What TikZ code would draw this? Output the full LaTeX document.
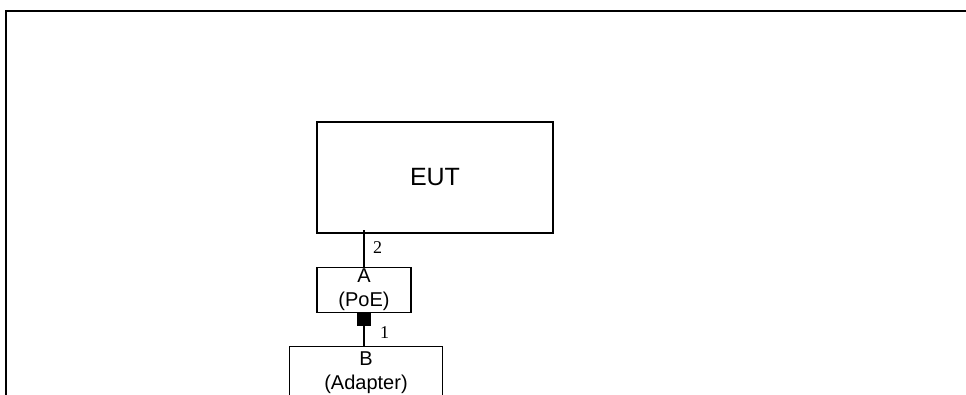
\documentclass[tikz,border=0pt]{standalone}
\usepackage{fontspec}
\setmainfont{Liberation Serif}
\newfontfamily\arialfont{Liberation Sans}
\usetikzlibrary{positioning}

\begin{document}
\begin{tikzpicture}[
    x=1pt, y=1pt,
    unit/.style={draw, rectangle, line width=1.2pt, inner sep=0pt, align=center, font=\arialfont\fontsize{20}{24}\selectfont},
    jack/.style={draw, fill=black, rectangle, inner sep=0pt, minimum width=13pt, minimum height=12pt},
    wire/.style={line width=1.2pt},
    portnum/.style={inner sep=0pt, font=\fontsize{18}{20}\selectfont}
]
\useasboundingbox (0,0) rectangle (966,-394);
\clip (0,0) rectangle (966,-394);
% outer frame
\draw[line width=1.6pt] (966,-11) -- (6,-11) -- (6,-400);

\node[unit, minimum width=236pt, minimum height=111pt, font=\arialfont\fontsize{25}{28}\selectfont] (eut) at (435,-177.5) {EUT};
\node[unit, below right=33pt and 0pt of eut.south west, minimum width=94pt, minimum height=45pt] (poe) {A\\(PoE)};
\node[jack, below=0pt of poe.south] (port) {};
\node[unit, below=21pt of port, xshift=2pt, minimum width=153pt, minimum height=52pt] (adapter) {B\\(Adapter)};

\draw[wire] (poe.north) -- ([yshift=4pt]poe.north |- eut.south);
\draw[wire] (port.south) -- (port.south |- adapter.north);
\node[portnum, right=9pt of poe.north, yshift=19pt] (p2) {2};
\node[portnum, right=16pt of port.south, yshift=-7pt] (p1) {1};
\end{tikzpicture}
\end{document}
